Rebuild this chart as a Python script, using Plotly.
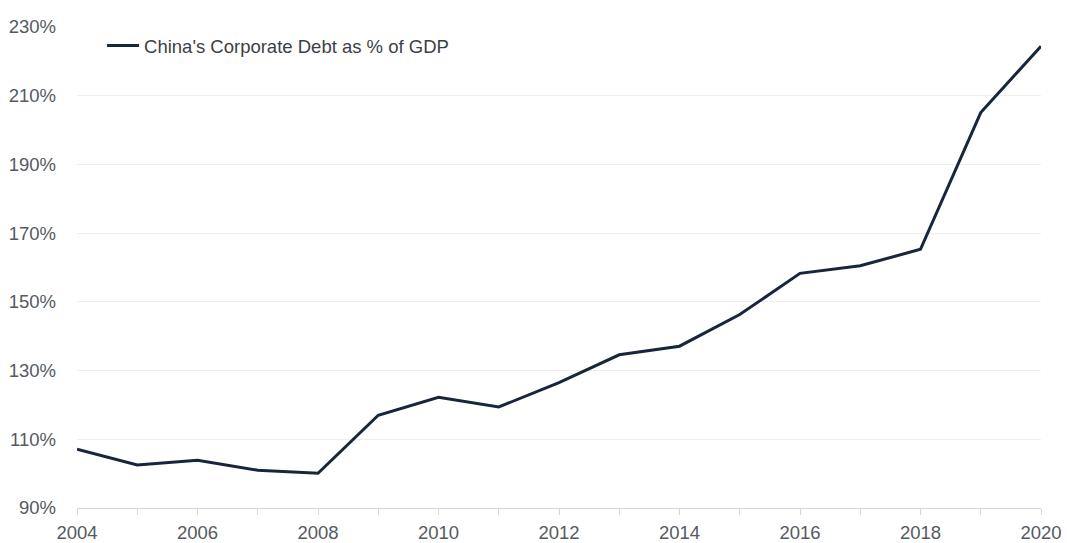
import plotly.graph_objects as go

years = list(range(2004, 2021))
debt_pct = [107.1, 102.5, 103.9, 101.0, 100.1, 117.0, 122.2, 119.4, 126.5,
            134.6, 137.1, 146.3, 158.3, 160.5, 165.3, 205.1, 224.4]
series_name = "China's Corporate Debt as % of GDP"
y_ticks = [90, 110, 130, 150, 170, 190, 210, 230]
x_ticks = [2004, 2006, 2008, 2010, 2012, 2014, 2016, 2018, 2020]

font_family = "Liberation Sans, Arial, sans-serif"
line_color = "#17263c"
label_color = "#555a62"
axis_gray = "#d6d6d6"

fig = go.Figure()
fig.add_trace(go.Scatter(
    x=years, y=debt_pct, mode="lines", name=series_name,
    line=dict(color=line_color, width=3),
))

fig.update_layout(
    width=1067, height=543,
    margin=dict(l=77, r=26, t=27, b=35),
    paper_bgcolor="white", plot_bgcolor="white",
    font=dict(family=font_family, size=18, color=label_color),
    showlegend=True,
    legend=dict(
        x=0.026, y=1.0, xanchor="left", yanchor="top",
        bgcolor="rgba(0,0,0,0)", font=dict(size=18.5, color="#3a3f47"),
        itemwidth=32,
    ),
    xaxis=dict(
        range=[2004, 2020], tickvals=x_ticks, ticktext=[str(v) for v in x_ticks],
        showgrid=False, zeroline=False, automargin=False,
        showline=True, linecolor=axis_gray, linewidth=1,
        ticks="outside", ticklen=6, tickcolor=axis_gray,
        minor=dict(dtick=1, ticks="outside", ticklen=6, tickcolor=axis_gray),
        ticklabelstandoff=2,
        tickfont=dict(size=18.5, color=label_color),
    ),
    yaxis=dict(
        range=[90, 230], tickvals=y_ticks, ticktext=[f"{v}%" for v in y_ticks],
        showgrid=True, gridcolor="#efefef", gridwidth=1, zeroline=False,
        showline=False, ticks="", ticklabelstandoff=20, automargin=False,
        tickfont=dict(size=18.5, color=label_color),
    ),
)

fig.write_html("out.html")
